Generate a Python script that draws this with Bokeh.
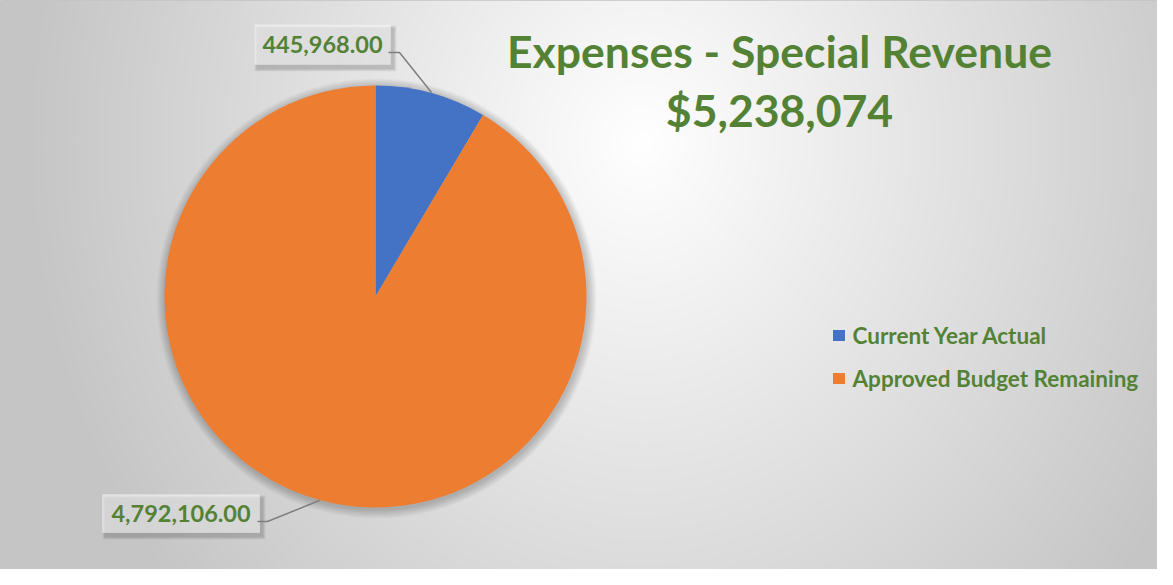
import numpy as np
from bokeh.plotting import figure
from bokeh.models import Range1d
from bokeh.core.properties import value
from bokeh.embed import file_html
from bokeh.resources import INLINE

# ---- data ----
categories = ["Current Year Actual", "Approved Budget Remaining"]
amounts = [445968.00, 4792106.00]
slice_colors = ["#4472C4", "#ED7D31"]
title_text = "Expenses - Special Revenue"

GREEN = "#548235"
FONT = value("Lato")

W, H = 1157, 569
M = 8


def px(X):
    return X - M


def py(Y):
    return H - (Y - M)


p = figure(width=W, height=H, x_range=Range1d(0, W), y_range=Range1d(0, H),
           output_backend="svg", toolbar_location=None,
           x_axis_location=None, y_axis_location=None, min_border=0,
           background_fill_color="white", border_fill_color="white",
           outline_line_color="#c4c4c4", outline_line_width=1)
p.grid.visible = False

# ---- background radial gradient ----
ys, xs = np.mgrid[0:H, 0:W]
Xp = xs + M + 0.5
Yp = (H - ys - 0.5) + M
t = np.sqrt(((Xp - 650) / 620.0) ** 2 + ((Yp - 150) / 700.0) ** 2)
t = np.clip(t, 0, 1)
g = (255 - 58 * t).astype(np.uint32)
img = (np.uint32(255) << 24) | (g << 16) | (g << 8) | g
p.image_rgba(image=[img.astype(np.uint32)], x=0, y=0, dw=W, dh=H)

# ---- pie ----
cx, cy, R = px(383), py(304), 211
total = float(sum(amounts))
fr = np.array(amounts) / total
ends = np.cumsum(fr) * 2 * np.pi
starts = ends - fr * 2 * np.pi

# soft shadow
for k in range(1, 10):
    p.circle(x=cx + 1, y=cy - 2, radius=R + k, fill_color="black",
             fill_alpha=0.022, line_color=None)

p.wedge(x=cx, y=cy, radius=R,
        start_angle=list(np.pi / 2 - starts), end_angle=list(np.pi / 2 - ends),
        direction="clock", fill_color=slice_colors, line_color=None)

# ---- data labels ----
label_texts = [f"{v:,.2f}" for v in amounts]
boxes = [(262, 32, 398, 72), (110, 502, 267, 540)]
leaders = [
    [(396, 60), (407, 60), (439, 100)],
    [(265, 529), (275, 529), (327, 508)],
]

for (x0, y0, x1, y1) in boxes:
    bx, by = px((x0 + x1) / 2), py((y0 + y1) / 2)
    bw, bh = x1 - x0, y1 - y0
    for k in range(1, 7):
        p.rect(x=bx + 3, y=by - 4, width=bw + k, height=bh + k,
               fill_color="black", fill_alpha=0.03, line_color=None)
    p.rect(x=bx, y=by, width=bw, height=bh, fill_color="white",
           fill_alpha=0.55, line_color="#e0e0e0", line_alpha=0.6)

for pts in leaders:
    p.line(x=[px(a) for a, b in pts], y=[py(b) for a, b in pts],
           line_color="#7f7f7f", line_width=1.5)

p.text(x=[px((b[0] + b[2]) / 2) for b in boxes],
       y=[py((b[1] + b[3]) / 2) for b in boxes],
       text=label_texts, text_font=FONT, text_font_style="bold",
       text_font_size="23.5px", text_color=GREEN,
       text_align="center", text_baseline="middle")

# ---- title ----
p.text(x=[px(787), px(787)], y=[py(58), py(117)],
       text=[title_text, f"${total:,.0f}"], text_font=FONT,
       text_font_style="bold", text_font_size="44.5px", text_color=GREEN,
       text_align="center", text_baseline="middle")

# ---- legend ----
leg_y = [343, 386]
p.rect(x=[px(846.5)] * 2, y=[py(v) for v in leg_y], width=12, height=11,
       fill_color=slice_colors, line_color=None)
p.text(x=[px(860)] * 2, y=[py(v) for v in leg_y], text=categories,
       text_font=FONT, text_font_style="bold", text_font_size="22.5px",
       text_color=GREEN, text_align="left", text_baseline="middle")

open("out.html", "w").write(file_html(p, INLINE))
